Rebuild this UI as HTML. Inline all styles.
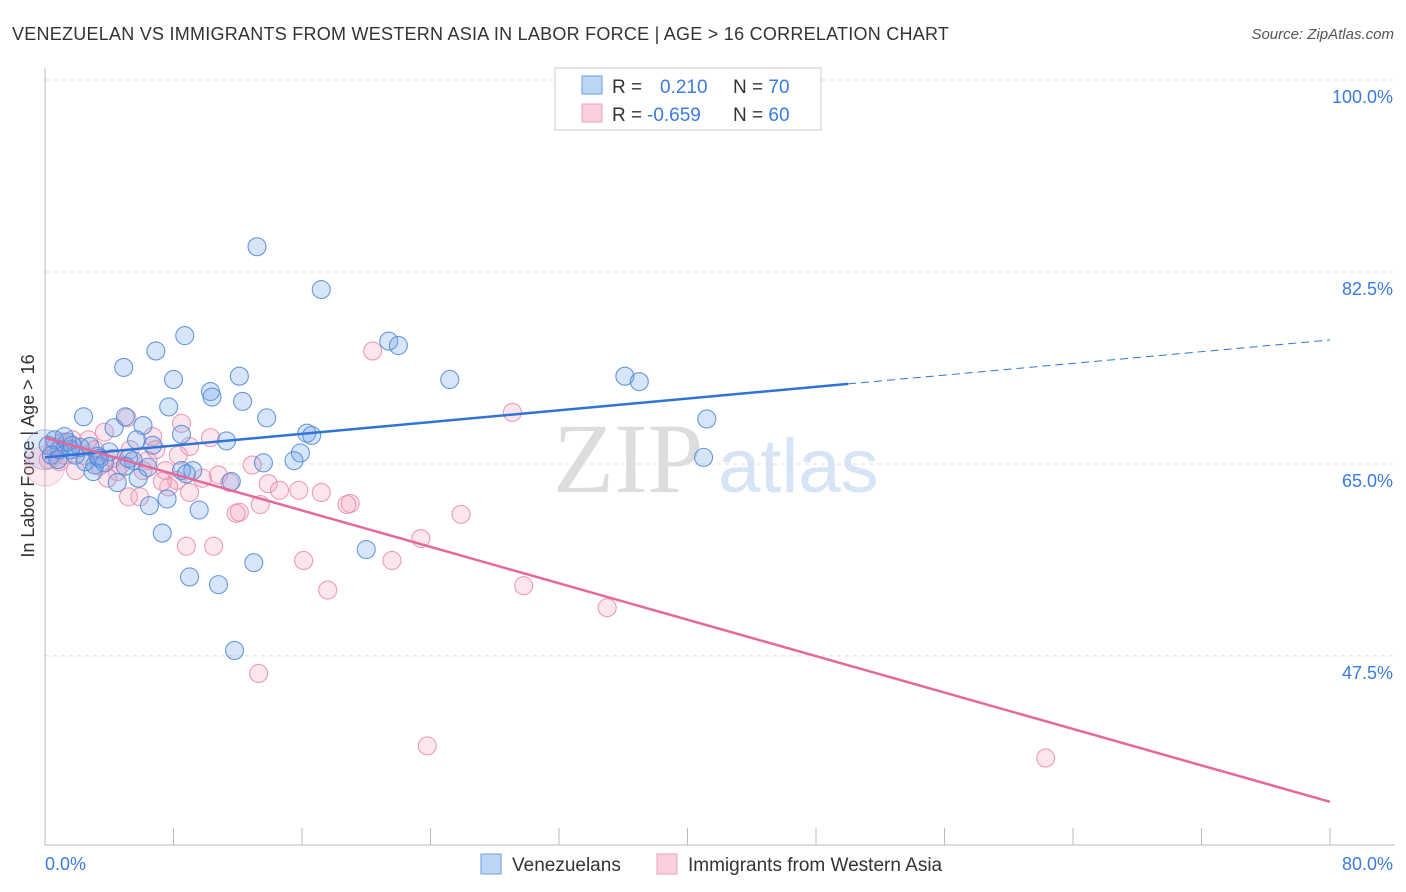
<!DOCTYPE html>
<html><head><meta charset="utf-8"><style>
body{margin:0;background:#fff;font-family:"Liberation Sans",sans-serif}
svg{display:block}
</style></head><body>
<svg id="c" width="1406" height="892">
<text x="12" y="40" font-size="18" fill="#333" letter-spacing="0.25">VENEZUELAN VS IMMIGRANTS FROM WESTERN ASIA IN LABOR FORCE | AGE &gt; 16 CORRELATION CHART</text>
<text x="1394" y="39" font-size="15" fill="#555" font-style="italic" text-anchor="end">Source: ZipAtlas.com</text>
<text x="553" y="492" font-size="100" fill="#ddd" font-family="Liberation Serif,serif">ZIP</text>
<text x="718" y="492" font-size="76" fill="#d6e4f6">atlas</text>
<text x="34" y="456" font-size="18" fill="#333" text-anchor="middle" transform="rotate(-90 34 456)">In Labor Force | Age &gt; 16</text>
<g id="grid"></g><g id="pts"></g><g id="lines"></g>
<g>
<rect x="555" y="68" width="266" height="62" fill="#fff" stroke="#ccc"/>
<rect x="582" y="76" width="20" height="18" fill="#bcd5f5" stroke="#6a9be0"/>
<rect x="582" y="104" width="20" height="18" fill="#fbd0de" stroke="#eba0ba"/>
<text x="612" y="93" font-size="19" fill="#333">R = <tspan fill="#3a7be0" x="660">0.210</tspan><tspan x="733" fill="#333">N = </tspan><tspan fill="#3a7be0">70</tspan></text>
<text x="612" y="121" font-size="19" fill="#333">R = <tspan fill="#3a7be0" x="647">-0.659</tspan><tspan x="733" fill="#333">N = </tspan><tspan fill="#3a7be0">60</tspan></text>
</g>
<g>
<rect x="481" y="854" width="20" height="20" fill="#bcd5f5" stroke="#6a9be0"/>
<text x="512" y="871" font-size="19" fill="#333">Venezuelans</text>
<rect x="657" y="854" width="20" height="20" fill="#fbd0de" stroke="#eba0ba"/>
<text x="688" y="871" font-size="19" fill="#333">Immigrants from Western Asia</text>
</g>
</svg>
<script>
const blueX=[13.2,17.2,8.7,6.9,4.9,21.4,22.0,25.2,36.1,37.0,8.0,12.1,10.3,10.4,12.3,7.7,2.4,5.0,13.8,41.2,6.1,4.3,8.5,16.3,16.6,11.3,1.2,2.8,15.9,41.0,13.6,15.5,5.7,6.7,0.6,0.9,1.9,3.4,5.5,3.1,6.4,8.5,9.2,8.8,3.0,5.8,4.5,11.6,6.5,7.6,9.6,7.3,20.0,13.0,9.0,10.8,11.8,0.2,0.4,1.6,0.8,2.5,3.7,5.2,2.2,4.0,1.4,5.0,3.3,1.7];
const blueY=[84.8,80.9,76.7,75.3,73.8,76.2,75.8,72.7,73.0,72.5,72.7,73.0,71.6,71.1,70.7,70.2,69.3,69.3,69.2,69.1,68.5,68.3,67.7,67.8,67.6,67.1,67.5,66.6,66.0,65.6,65.1,65.3,67.2,66.7,67.2,66.3,65.8,65.5,65.3,64.9,64.7,64.4,64.4,64.1,64.3,63.7,63.3,63.4,61.2,61.8,60.8,58.7,57.2,56.0,54.7,54.0,48.0,66.7,65.8,66.3,65.4,65.2,65.1,65.5,66.5,66.1,67.0,64.8,65.7,66.7];
const pinkX=[20.4,29.1,8.5,10.3,5.1,6.7,9.0,6.9,3.7,1.1,2.4,4.7,6.4,4.5,3.9,8.2,9.8,10.8,11.5,12.9,13.9,14.6,15.8,17.2,19.0,18.8,5.2,5.9,7.7,12.1,11.9,13.4,25.9,23.4,8.8,10.5,16.1,21.6,17.6,29.8,35.0,13.3,23.8,62.3,0.2,0.6,1.7,3.1,7.5,4.2,2.7,1.2,0.9,8.3,9.0,6.1,7.3,3.4,1.9,5.3];
const pinkY=[75.3,69.7,68.7,67.4,69.2,67.5,66.6,66.3,67.9,67.0,65.8,64.9,65.3,64.3,63.7,63.5,63.7,64.0,63.3,64.9,63.2,62.6,62.6,62.4,61.4,61.3,62.0,62.0,62.9,60.6,60.5,61.3,60.4,58.2,57.5,57.5,56.2,56.2,53.5,53.9,51.9,45.9,39.3,38.2,65.4,66.5,67.2,66.3,64.4,65.5,67.2,65.8,65.2,65.8,62.4,64.4,63.4,64.8,64.4,66.3];
const yTicks=[100,82.5,65,47.5];
const yTickLabels=["100.0%","82.5%","65.0%","47.5%"];
const blueTrend=[[0,65.6],[50,72.3],[80,76.3]];
const pinkTrend=[[0,67.4],[80,34.2]];
const NS="http://www.w3.org/2000/svg";
const sx=v=>45+v*1285/80;
const sy=v=>80+(100-v)*10.97;
function mk(t,a,p){const e=document.createElementNS(NS,t);for(const k in a)e.setAttribute(k,a[k]);p.appendChild(e);return e;}
const grid=document.getElementById('grid');
yTicks.forEach((t,i)=>{
 const l=mk('line',{x1:45,x2:1395,y1:sy(t),y2:sy(t),stroke:'#ddd','stroke-dasharray':'4,4'},grid);
 
 
 const tx=mk('text',{x:1393,y:sy(t)+23,'font-size':18,fill:'#3a7be0','text-anchor':'end'},grid);
 tx.textContent=yTickLabels[i];
 
 
});
const ax=mk('line',{x1:45,x2:45,y1:68,y2:845,stroke:'#bbb'},grid);


const bx=mk('line',{x1:45,x2:1395,y1:845,y2:845,stroke:'#bbb'},grid);


for(let v=0;v<=80;v+=8){const t=mk('line',{x1:sx(v),x2:sx(v),y1:828,y2:845,stroke:'#bbb'},grid);
 
 }
const x0=mk('text',{x:45,y:870,'font-size':18,fill:'#3a7be0'},grid);x0.textContent='0.0%';


const x1=mk('text',{x:1393,y:870,'font-size':18,fill:'#3a7be0','text-anchor':'end'},grid);x1.textContent='80.0%';


const pts=document.getElementById('pts');
const bb=mk('circle',{cx:sx(0),cy:sy(66.3),r:20,fill:'rgba(110,155,225,0.22)',stroke:'rgba(90,140,215,0.45)'},pts);


const pb=mk('circle',{cx:sx(0),cy:sy(64.8),r:20,fill:'rgba(240,150,180,0.22)',stroke:'rgba(232,150,180,0.45)'},pts);


pinkX.forEach((x,i)=>{const c=mk('circle',{cx:sx(x),cy:sy(pinkY[i]),r:9,fill:'rgba(245,165,190,0.28)',stroke:'rgba(232,140,172,0.85)','stroke-width':1.1},pts);
 
 });
blueX.forEach((x,i)=>{const c=mk('circle',{cx:sx(x),cy:sy(blueY[i]),r:9,fill:'rgba(110,160,230,0.28)',stroke:'rgba(80,135,215,0.85)','stroke-width':1.1},pts);
 
 });
const lines=document.getElementById('lines');
const b1=mk('line',{x1:sx(blueTrend[0][0]),y1:sy(blueTrend[0][1]),x2:sx(blueTrend[1][0]),y2:sy(blueTrend[1][1]),stroke:'#2f74d6','stroke-width':2.5},lines);


const b2=mk('line',{x1:sx(blueTrend[1][0]),y1:sy(blueTrend[1][1]),x2:sx(blueTrend[2][0]),y2:sy(blueTrend[2][1]),stroke:'#2f74d6','stroke-width':1,'stroke-dasharray':'8,5'},lines);


const p1=mk('line',{x1:sx(pinkTrend[0][0]),y1:sy(pinkTrend[0][1]),x2:sx(pinkTrend[1][0]),y2:sy(pinkTrend[1][1]),stroke:'#e5689a','stroke-width':2.5},lines);


</script>
</body></html>
